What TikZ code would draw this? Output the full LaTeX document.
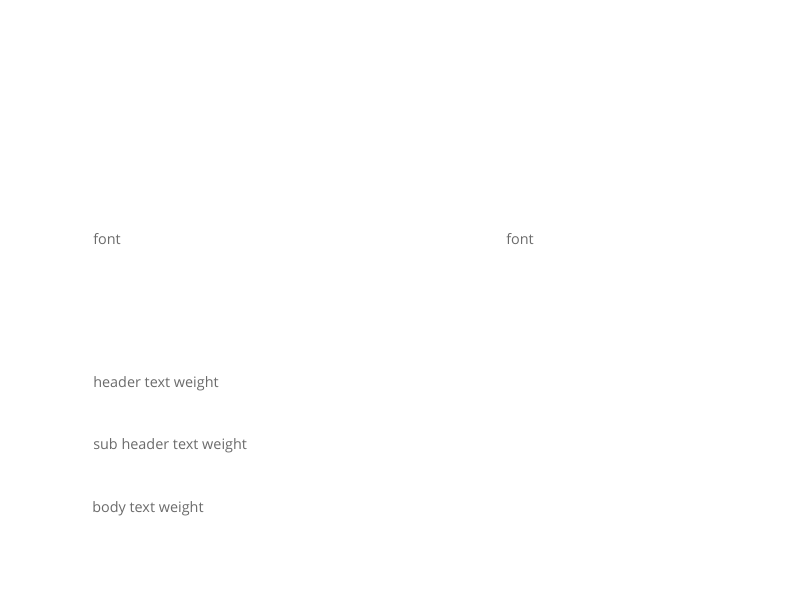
\documentclass[tikz,border=0pt]{standalone}
\usepackage{fontspec}
\setmainfont{Open Sans}
\definecolor{labelgray}{HTML}{6B6B6B}
\tikzset{weighttext/.style={anchor=base west,inner sep=0pt,text=labelgray,font=\fontsize{10.8pt}{12pt}\selectfont}}

\begin{document}
\begin{tikzpicture}[x={(.75pt,0)},y={(0,-.75pt)}]

\useasboundingbox (0,0) rectangle (793,613);

\node[weighttext] (fontleft) at (93,244) {font};
\node[weighttext] (fontright) at (506,245) {font};

\node[weighttext] (header) at (93,387) {header text weight};
\node[weighttext] (subheader) at (93,449) {sub header text weight};
\node[weighttext] (body) at (92,512) {body text weight};

\end{tikzpicture}
\end{document}
